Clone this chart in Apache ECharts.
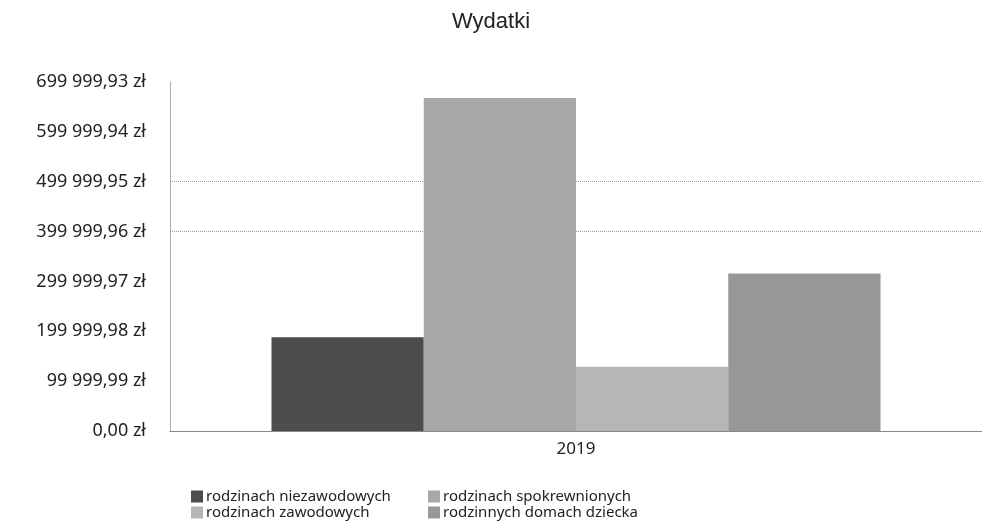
<!DOCTYPE html>
<html>
<head>
<meta charset="utf-8">
<script src="https://cdn.jsdelivr.net/npm/echarts@6/dist/echarts.min.js"></script>
<style>
    html, body {margin: 0; padding: 0; background: #fff;}
    #main {width: 982px; height: 530px;}
</style>
</head>
<body>
<div id="main"></div>
<script>
var categories = ['2019'];
var seriesNames = ['rodzinach niezawodowych', 'rodzinach spokrewnionych', 'rodzinach zawodowych', 'rodzinnych domach dziecka'];
var niezawodowych = [188000];
var spokrewnionych = [668000];
var zawodowych = [129000];
var domachDziecka = [316000];
var seriesColors = ['#4d4d4d', '#a8a8a8', '#b6b6b6', '#989898'];
var tickStep = 99999.99;
var tickMax = 699999.93;

function zl(v){
    var s = v.toFixed(2).split('.');
    var whole = s[0].replace(/\B(?=(\d{3})+(?!\d))/g, ' ');
    return whole + ',' + s[1] + ' zł';
}

var myChart = echarts.init(document.getElementById('main'));
var values = [niezawodowych, spokrewnionych, zawodowych, domachDziecka];
var series = [];
for (var i = 0; i < seriesNames.length; i++) {
    series.push({
        name: seriesNames[i],
        type: 'bar',
        barGap: '0%',
        barCategoryGap: '25%',
        itemStyle: {color: seriesColors[i]},
        data: values[i]
    });
}

// only two dotted grid lines show in the original (400k and 500k)
var gridColors = ['rgba(0,0,0,0)', 'rgba(0,0,0,0)', 'rgba(0,0,0,0)', 'rgba(0,0,0,0)', '#9a9a9a', '#9a9a9a', 'rgba(0,0,0,0)', 'rgba(0,0,0,0)'];

var option = {
    animation: false,
    title: {
        text: 'Wydatki',
        left: 'center',
        top: 6,
        textStyle: {fontFamily: 'Liberation Sans', fontSize: 22, fontWeight: 'normal', color: '#222'}
    },
    legend: [{
        data: [seriesNames[0], seriesNames[2]],
        orient: 'vertical',
        left: 186,
        top: 484,
        itemGap: 1,
        itemWidth: 12,
        itemHeight: 12,
        icon: 'rect',
        textStyle: {fontFamily: 'Noto Sans', fontSize: 15, color: '#222', padding: [0, 0, 0, -2]}
    }, {
        data: [seriesNames[1], seriesNames[3]],
        orient: 'vertical',
        left: 423,
        top: 484,
        itemGap: 1,
        itemWidth: 12,
        itemHeight: 12,
        icon: 'rect',
        textStyle: {fontFamily: 'Noto Sans', fontSize: 15, color: '#222', padding: [0, 0, 0, -2]}
    }],
    grid: {left: 170, width: 824, top: 82, bottom: 99, containLabel: false},
    xAxis: {
        type: 'category',
        data: categories,
        axisLine: {lineStyle: {color: '#888', width: 1}},
        axisTick: {show: false},
        axisLabel: {fontFamily: 'Noto Sans', fontSize: 17, color: '#222', margin: 10}
    },
    yAxis: {
        type: 'value',
        min: 0,
        max: tickMax,
        interval: tickStep,
        axisLine: {show: true, lineStyle: {color: '#999', type: 'dotted'}},
        axisTick: {show: false},
        axisLabel: {
            fontFamily: 'Noto Sans', fontSize: 18, color: '#222', margin: 24,
            formatter: function (v) { return zl(v); }
        },
        splitLine: {show: true, lineStyle: {color: gridColors, type: 'dotted'}}
    },
    series: series
};
myChart.setOption(option);
</script>
</body>
</html>
